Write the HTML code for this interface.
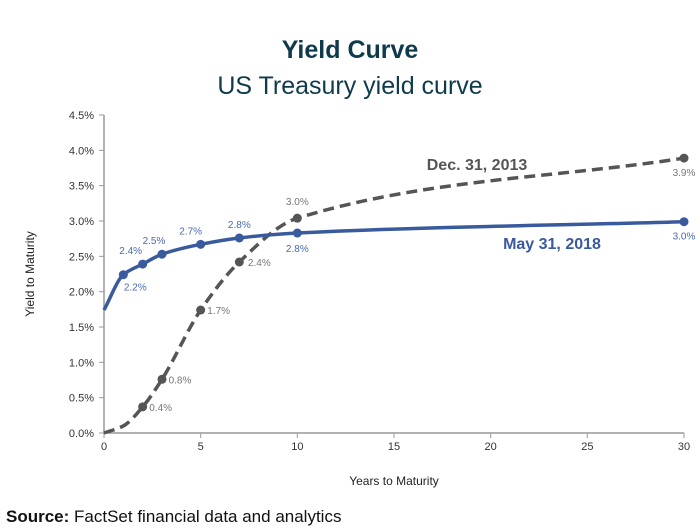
<!DOCTYPE html>
<html><head><meta charset="utf-8"><style>
body{margin:0;background:#fff;font-family:"Liberation Sans",sans-serif;}
svg{display:block}
</style></head><body>
<svg id="c" width="700" height="531">
<text x="350" y="58" text-anchor="middle" font-size="25" font-weight="bold" fill="#0e3a4c">Yield Curve</text>
<text x="350" y="94" text-anchor="middle" font-size="25" fill="#0e3a4c">US Treasury yield curve</text>
<text transform="translate(34,274) rotate(-90)" text-anchor="middle" font-size="12" fill="#222">Yield to Maturity</text>
<text x="394" y="485" text-anchor="middle" font-size="12" fill="#222">Years to Maturity</text>
<text x="6" y="522" font-size="17" fill="#111"><tspan font-weight="bold">Source:</tspan> FactSet financial data and analytics</text>
<g id="axes"></g><g id="series"></g>
</svg>
<script>
const xTicks=[0,5,10,15,20,25,30];
const yTicks=[0,0.5,1,1.5,2,2.5,3,3.5,4,4.5];
const blueX=[0,1,2,3,5,7,10,30];
const blueY=[1.74,2.24,2.39,2.53,2.67,2.76,2.83,2.99];
const blueLabels=["","2.2%","2.4%","2.5%","2.7%","2.8%","2.8%","3.0%"];
const grayX=[0,1,2,3,5,7,10,30];
const grayY=[0,0.1,0.37,0.76,1.74,2.42,3.04,3.89];
const grayLabels=["","","0.4%","0.8%","1.7%","2.4%","3.0%","3.9%"];
const grayMarkers=[false,false,true,true,true,true,true,true];
const blueMarkers=[false,true,true,true,true,true,true,true];
const X=v=>104+v*(580/30), Y=v=>433-v*(318/4.5);
const NS="http://www.w3.org/2000/svg";
function mk(t,a,p){const e=document.createElementNS(NS,t);for(const k in a)e.setAttribute(k,a[k]);p.appendChild(e);return e;}
const ax=document.getElementById('axes'),se=document.getElementById('series');
let l=mk('line',{x1:104,y1:115,x2:104,y2:433,stroke:'#999','stroke-width':1.5},ax);


l=mk('line',{x1:104,y1:433,x2:684,y2:433,stroke:'#999','stroke-width':1.5},ax);


yTicks.forEach(v=>{const t=mk('text',{x:94,y:Y(v)+4,'text-anchor':'end','font-size':11,fill:'#333'},ax);t.textContent=v.toFixed(1)+'%';


mk('line',{x1:99,x2:104,y1:Y(v),y2:Y(v),stroke:'#999'},ax);});
xTicks.forEach(v=>{const t=mk('text',{x:X(v),y:450,'text-anchor':'middle','font-size':11,fill:'#333'},ax);t.textContent=v;


mk('line',{x1:X(v),x2:X(v),y1:433,y2:438,stroke:'#999'},ax);});
function smooth(xs,ys){const n=xs.length,h=[],s=[],m=[];
for(let i=0;i<n-1;i++){h[i]=xs[i+1]-xs[i];s[i]=(ys[i+1]-ys[i])/h[i];}
m[0]=s[0];m[n-1]=s[n-2];
for(let i=1;i<n-1;i++){if(s[i-1]*s[i]<=0)m[i]=0;else{const w1=2*h[i]+h[i-1],w2=h[i]+2*h[i-1];m[i]=(w1+w2)/(w1/s[i-1]+w2/s[i]);}}
let d='M'+X(xs[0])+','+Y(ys[0]);
for(let i=0;i<n-1;i++){const dx=h[i]/3;
d+=' C'+X(xs[i]+dx)+','+Y(ys[i]+m[i]*dx)+' '+X(xs[i+1]-dx)+','+Y(ys[i+1]-m[i+1]*dx)+' '+X(xs[i+1])+','+Y(ys[i+1]);}
return d;}
let g=mk('path',{d:smooth(grayX,grayY),fill:'none',stroke:'#555','stroke-width':3.5,'stroke-dasharray':'11 6'},se);


let b=mk('path',{d:smooth(blueX,blueY),fill:'none',stroke:'#3a5a9e','stroke-width':3.5},se);


const grayOff=[[0,0],[0,0],[18,4],[18,4],[18,4],[20,4],[0,-13],[0,18]];
const blueOff=[[0,0],[12,16],[-12,-10],[-8,-10],[-10,-10],[0,-10],[0,19],[0,18]];
grayX.forEach((x,i)=>{if(grayMarkers[i]){const c=mk('circle',{cx:X(x),cy:Y(grayY[i]),r:4.5,fill:'#555'},se);

}
if(grayLabels[i]){const t=mk('text',{x:X(x)+grayOff[i][0],y:Y(grayY[i])+grayOff[i][1],'text-anchor':'middle','font-size':10,fill:'#777'},se);t.textContent=grayLabels[i];

}});
blueX.forEach((x,i)=>{if(blueMarkers[i]){const c=mk('circle',{cx:X(x),cy:Y(blueY[i]),r:4.5,fill:'#3a5a9e'},se);

}
if(blueLabels[i]){const t=mk('text',{x:X(x)+blueOff[i][0],y:Y(blueY[i])+blueOff[i][1],'text-anchor':'middle','font-size':10,fill:'#4a6ab0'},se);t.textContent=blueLabels[i];

}});
let t=mk('text',{x:477,y:170,'text-anchor':'middle','font-size':16,'font-weight':'bold',fill:'#555'},se);t.textContent='Dec. 31, 2013';


t=mk('text',{x:552,y:249,'text-anchor':'middle','font-size':16,'font-weight':'bold',fill:'#3a5a9e'},se);t.textContent='May 31, 2018';


</script>
</body></html>
